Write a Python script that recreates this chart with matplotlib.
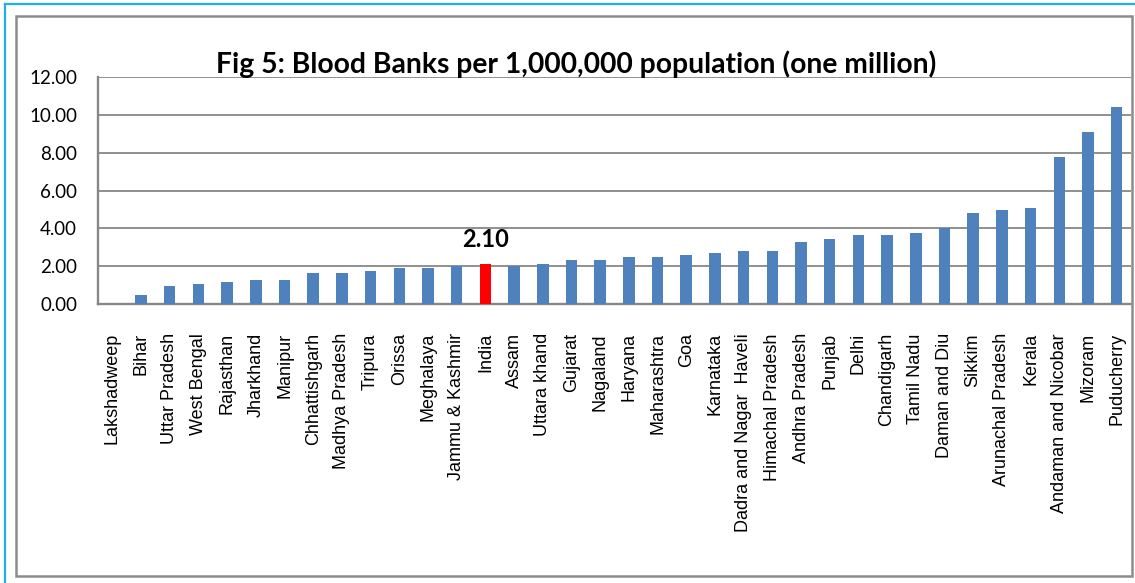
import matplotlib
matplotlib.use('Agg')
import matplotlib.pyplot as plt
from matplotlib.lines import Line2D
from matplotlib.patches import Rectangle

states = ['Lakshadweep', 'Bihar', 'Uttar Pradesh', 'West Bengal', 'Rajasthan', 'Jharkhand',
          'Manipur', 'Chhattishgarh', 'Madhya Pradesh', 'Tripura', 'Orissa', 'Meghalaya',
          'Jammu & Kashmir', 'India', 'Assam', 'Uttara khand', 'Gujarat', 'Nagaland',
          'Haryana', 'Maharashtra', 'Goa', 'Karnataka', 'Dadra and Nagar  Haveli',
          'Himachal Pradesh', 'Andhra Pradesh', 'Punjab', 'Delhi', 'Chandigarh',
          'Tamil Nadu', 'Daman and Diu', 'Sikkim', 'Arunachal Pradesh', 'Kerala',
          'Andaman and Nicobar', 'Mizoram', 'Puducherry']
banks_per_million = [0.0, 0.46, 0.93, 1.06, 1.17, 1.29, 1.29, 1.64, 1.64, 1.76, 1.88, 1.88,
                     2.01, 2.10, 2.01, 2.13, 2.34, 2.34, 2.47, 2.47, 2.59, 2.70, 2.82,
                     2.82, 3.30, 3.42, 3.65, 3.65, 3.77, 4.02, 4.83, 4.96, 5.08,
                     7.79, 9.08, 10.39]
highlight = 'India'
y_ticks = [0, 2, 4, 6, 8, 10, 12]

W, H = 1135, 583
fig = plt.figure(figsize=(W / 100, H / 100), dpi=100)

# frames around the chart
fig.patches.append(Rectangle((16 / W, 1 - 576 / H), (1132 - 16) / W, (576 - 16) / H,
                             transform=fig.transFigure, fill=False,
                             edgecolor='#8c8c8c', linewidth=1.8))
fig.lines.append(Line2D([5 / W, 1], [1 - 4 / H, 1 - 4 / H], transform=fig.transFigure,
                        color='#1fb0e8', linewidth=1.6))
fig.lines.append(Line2D([5 / W, 5 / W], [0, 1 - 4 / H], transform=fig.transFigure,
                        color='#1fb0e8', linewidth=1.6))

ax = fig.add_axes([98 / W, 1 - 304 / H, (1131 - 98) / W, (304 - 77) / H])

colors = ['#ff0000' if s == highlight else '#4f81bd' for s in states]
x = list(range(len(states)))
ax.bar(x, banks_per_million, width=0.4, color=colors, zorder=3)

ax.set_xlim(-0.5, len(states) - 0.5)
ax.set_ylim(0, 12)
ax.set_yticks(y_ticks)
ax.set_yticklabels(['%.2f' % v for v in y_ticks], family='Lato', fontsize=13.5)
ax.set_xticks(x)
ax.set_xticklabels(states, rotation=90, family='Liberation Sans', fontsize=13,
                   va='top', ha='center')
ax.tick_params(axis='both', length=0)
ax.tick_params(axis='y', pad=15)
ax.tick_params(axis='x', pad=21)

ax.grid(axis='y', color='#878787', linewidth=1.3, zorder=0)
for side in ['top', 'right']:
    ax.spines[side].set_visible(False)
for side in ['left', 'bottom']:
    ax.spines[side].set_color('#878787')
    ax.spines[side].set_linewidth(1.7)

i_idx = states.index(highlight)
ax.annotate('%.2f' % banks_per_million[i_idx], (i_idx, banks_per_million[i_idx]),
            xytext=(0, 12.5), textcoords='offset points', ha='center', va='baseline',
            family='Lato', fontweight='bold', fontsize=17)

title = fig.text(576 / W, 1 - 73 / H,
                 'Fig 5: Blood Banks per 1,000,000 population (one million)',
                 ha='center', va='baseline', family='Lato', fontweight='bold', fontsize=20)
renderer = fig.canvas.get_renderer()
tw = title.get_window_extent(renderer).width
title.set_fontsize(20 * 720 / tw)

fig.savefig('out.png', dpi=100)
